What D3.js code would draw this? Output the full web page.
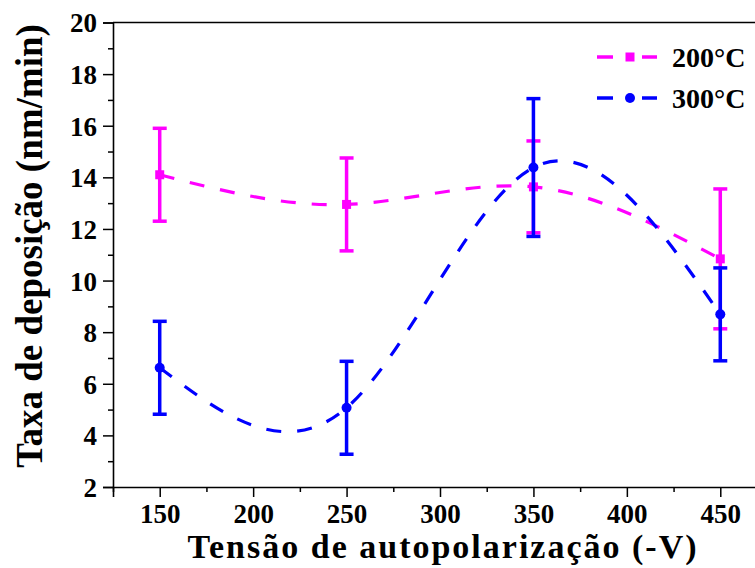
<!DOCTYPE html>
<html>
<head>
<meta charset="utf-8">
<script src="https://cdn.jsdelivr.net/npm/d3@7"></script>
<style>
  html, body { margin: 0; padding: 0; background: #fff; }
  svg { display: block; }
  text { font-family: "Liberation Serif", "Times New Roman", serif; font-weight: bold; fill: #000; }
</style>
</head>
<body>
<svg id="chart" width="755" height="568"></svg>
<script>
// Bias voltage (-V)
const voltages = [150, 250, 350, 450];
// Deposition rate (nm/min) and error half-widths per temperature
const rate200 = [14.1, 12.95, 13.63, 10.84];
const err200  = [1.8, 1.8, 1.78, 2.71];
const rate300 = [6.62, 5.07, 14.38, 8.69];
const err300  = [1.8, 1.8, 2.67, 1.8];
const seriesNames = ["200°C", "300°C"];
const seriesColors = ["#ff00ff", "#0000ff"];
const xTicks = [150, 200, 250, 300, 350, 400, 450];
const yTicks = [2, 4, 6, 8, 10, 12, 14, 16, 18, 20];

const svg = d3.select("#chart");
const plotLeft = 113, plotRight = 767, plotTop = 22.5, plotBottom = 487;

const x = d3.scaleLinear().domain([125, 475]).range([plotLeft, plotRight]);
const y = d3.scaleLinear().domain([2, 20]).range([plotBottom, plotTop]);

// Frame: top and right border lines
svg.append("line").attr("x1", plotLeft).attr("x2", plotRight).attr("y1", plotTop).attr("y2", plotTop)
  .attr("stroke", "#000").attr("stroke-width", 1.6);
svg.append("line").attr("x1", plotRight).attr("x2", plotRight).attr("y1", plotTop).attr("y2", plotBottom)
  .attr("stroke", "#000").attr("stroke-width", 1.6);

// Y axis with minor ticks
const yMinor = d3.range(3, 20, 2);
svg.append("g").attr("transform", `translate(${plotLeft},0)`)
  .call(d3.axisLeft(y).tickValues(yMinor).tickSize(5).tickFormat(""))
  .call(g => g.select(".domain").remove())
  .call(g => g.selectAll("line").attr("stroke-width", 1.5));
const yAxis = svg.append("g").attr("transform", `translate(${plotLeft},0)`)
  .call(d3.axisLeft(y).tickValues(yTicks).tickSize(10).tickPadding(6).tickFormat(d3.format("d")));
yAxis.select(".domain").attr("stroke-width", 1.6);
yAxis.selectAll("line").attr("stroke-width", 1.5);
yAxis.selectAll("text").attr("font-size", 27).attr("dy", "0.35em")
  .style("font-family", "'Liberation Serif', serif").style("font-weight", "bold");

// X axis with minor ticks
const xMinor = d3.range(125, 476, 50);
svg.append("g").attr("transform", `translate(0,${plotBottom})`)
  .call(d3.axisBottom(x).tickValues(xMinor).tickSize(5).tickFormat(""))
  .call(g => g.select(".domain").remove())
  .call(g => g.selectAll("line").attr("stroke-width", 1.5));
const xAxis = svg.append("g").attr("transform", `translate(0,${plotBottom})`)
  .call(d3.axisBottom(x).tickValues(xTicks).tickSize(10).tickPadding(7).tickFormat(d3.format("d")));
xAxis.select(".domain").attr("stroke-width", 1.6);
xAxis.selectAll("line").attr("stroke-width", 1.5);
xAxis.selectAll("text").attr("font-size", 27)
  .style("font-family", "'Liberation Serif', serif").style("font-weight", "bold");

// Axis titles
svg.append("text")
  .attr("x", 443).attr("y", 558)
  .attr("text-anchor", "middle").attr("font-size", 34)
  .attr("letter-spacing", 2)
  .text("Tensão de autopolarização (-V)");
svg.append("text")
  .attr("transform", `translate(42,${(22 + 470) / 2}) rotate(-90)`)
  .attr("text-anchor", "middle").attr("font-size", 37)
  .text("Taxa de deposição (nm/min)");

// Series
const series = [
  { values: rate200, errors: err200, color: seriesColors[0], marker: "square" },
  { values: rate300, errors: err300, color: seriesColors[1], marker: "circle" }
];

const line = d3.line()
  .x(d => x(d[0]))
  .y(d => y(d[1]))
  .curve(d3.curveNatural);

const plot = svg.append("g");

series.forEach(s => {
  const pts = voltages.map((v, i) => [v, s.values[i], s.errors[i]]);
  plot.append("path")
    .datum(pts)
    .attr("d", line)
    .attr("fill", "none")
    .attr("stroke", s.color)
    .attr("stroke-width", 3.2)
    .attr("stroke-dasharray", "15,16");
});

series.forEach(s => {
  const pts = voltages.map((v, i) => [v, s.values[i], s.errors[i]]);
  const g = plot.append("g").attr("stroke", s.color).attr("fill", s.color);
  // error bars
  g.selectAll("line.bar").data(pts).join("line")
    .attr("x1", d => x(d[0])).attr("x2", d => x(d[0]))
    .attr("y1", d => y(d[1] - d[2])).attr("y2", d => y(d[1] + d[2]))
    .attr("stroke-width", 3.5);
  ["lo", "hi"].forEach(k => {
    g.selectAll("line.cap" + k).data(pts).join("line")
      .attr("class", "cap" + k)
      .attr("x1", d => x(d[0]) - 7).attr("x2", d => x(d[0]) + 7)
      .attr("y1", d => y(k === "lo" ? d[1] - d[2] : d[1] + d[2]))
      .attr("y2", d => y(k === "lo" ? d[1] - d[2] : d[1] + d[2]))
      .attr("stroke-width", 3.5);
  });
  // markers
  if (s.marker === "square") {
    g.selectAll("rect").data(pts).join("rect")
      .attr("x", d => x(d[0]) - 4.5).attr("y", d => y(d[1]) - 4.5)
      .attr("width", 9).attr("height", 9).attr("stroke", "none");
  } else {
    g.selectAll("circle").data(pts).join("circle")
      .attr("cx", d => x(d[0])).attr("cy", d => y(d[1]))
      .attr("r", 5).attr("stroke", "none");
  }
});

// Legend
const legend = svg.append("g");
series.forEach((s, i) => {
  const ly = 57 + i * 41;
  const g = legend.append("g").attr("stroke", s.color).attr("fill", s.color);
  g.append("line").attr("x1", 597).attr("x2", 613).attr("y1", ly).attr("y2", ly).attr("stroke-width", 3.5);
  g.append("line").attr("x1", 642).attr("x2", 657).attr("y1", ly).attr("y2", ly).attr("stroke-width", 3.5);
  if (s.marker === "square") {
    g.append("rect").attr("x", 625.5).attr("y", ly - 4.5).attr("width", 9).attr("height", 9).attr("stroke", "none");
  } else {
    g.append("circle").attr("cx", 630).attr("cy", ly).attr("r", 5).attr("stroke", "none");
  }
  legend.append("text").attr("x", 672).attr("y", ly + 9.5)
    .attr("font-size", 28).text(seriesNames[i]);
});
</script>
</body>
</html>
